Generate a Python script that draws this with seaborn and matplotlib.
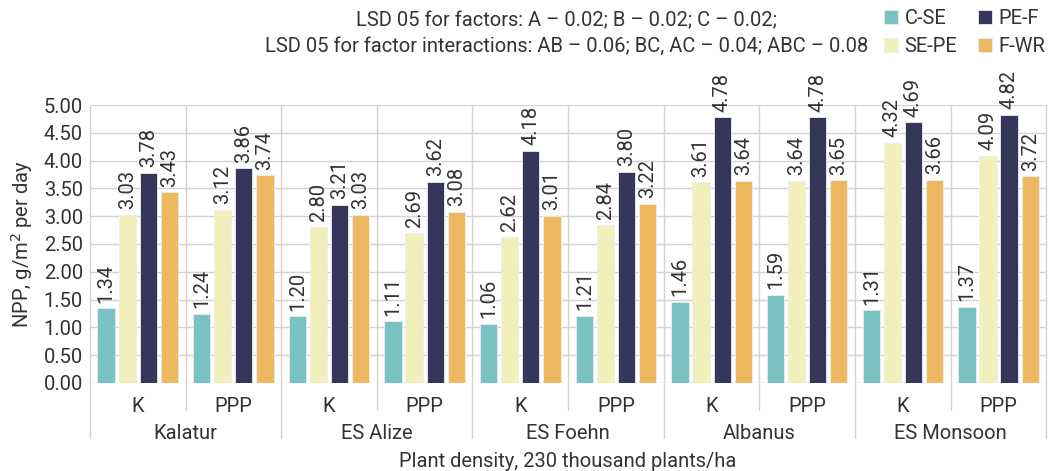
import pandas as pd
import numpy as np
import matplotlib.pyplot as plt
from matplotlib.transforms import blended_transform_factory
import seaborn as sns

# Data
varieties = ['Kalatur', 'ES Alize', 'ES Foehn', 'Albanus', 'ES Monsoon']
densities = ['K', 'PPP']
series = ['C-SE', 'SE-PE', 'PE-F', 'F-WR']
c_se = [1.34, 1.24, 1.20, 1.11, 1.06, 1.21, 1.46, 1.59, 1.31, 1.37]
se_pe = [3.03, 3.12, 2.80, 2.69, 2.62, 2.84, 3.61, 3.64, 4.32, 4.09]
pe_f = [3.78, 3.86, 3.21, 3.62, 4.18, 3.80, 4.78, 4.78, 4.69, 4.82]
f_wr = [3.43, 3.74, 3.03, 3.08, 3.01, 3.22, 3.64, 3.65, 3.66, 3.72]
colors = ['#78C2C1', '#F2F0BA', '#36365A', '#ECB860']

subgroups = [f'{v}|{d}' for v in varieties for d in densities]
rows = []
for name, vals in zip(series, [c_se, se_pe, pe_f, f_wr]):
    for sg, val in zip(subgroups, vals):
        rows.append({'sub': sg, 'series': name, 'value': val})
df = pd.DataFrame(rows)

sns.set_theme(style='white')
plt.rcParams['font.family'] = ['Roboto', 'DejaVu Sans']
text_color = '#333333'
grid_color = '#D3D3D3'
fs = 14.5

fig = plt.figure(figsize=(10.57, 4.71), dpi=100)
ax = fig.add_axes([0.085, 0.187, 0.905, 0.590])

sns.barplot(data=df, x='sub', y='value', hue='series', order=subgroups,
            hue_order=series, palette=colors, width=0.88, gap=0.18,
            edgecolor='#EDEDF2', linewidth=0.6, saturation=1, ax=ax, zorder=3)

for cont in ax.containers:
    ax.bar_label(cont, fmt='%.2f', rotation=90, padding=4,
                 fontsize=fs, color=text_color)

ax.set_ylim(0, 5)
ax.set_yticks(np.arange(0, 5.01, 0.5))
ax.set_yticklabels([f'{t:.2f}' for t in np.arange(0, 5.01, 0.5)],
                   fontsize=fs, color=text_color)
ax.set_xlim(-0.5, len(subgroups) - 0.5)
ax.set_xticks(range(len(subgroups)))
ax.set_xticklabels([s.split('|')[1] for s in subgroups], fontsize=fs,
                   color=text_color)
ax.tick_params(axis='both', length=0)
ax.tick_params(axis='y', pad=5)
ax.tick_params(axis='x', pad=10)
ax.yaxis.grid(True, color=grid_color, linewidth=1, zorder=0)
ax.set_axisbelow(True)
for s in ax.spines.values():
    s.set_visible(False)

# separators between subgroups and groups
for i in range(len(subgroups) + 1):
    x = i - 0.5
    ymin = -0.198 if i % 2 == 0 else -0.097
    ax.axvline(x, ymin=ymin, ymax=1, color=grid_color, linewidth=1,
               clip_on=False, zorder=1)

trans = blended_transform_factory(ax.transData, ax.transAxes)
for j, v in enumerate(varieties):
    ax.text(2 * j + 0.5, -0.215, v, transform=trans, ha='center',
            va='bottom', fontsize=fs, color=text_color)

ax.set_xlabel('Plant density, 230 thousand plants/ha', fontsize=fs,
              color=text_color, labelpad=26)
ax.set_ylabel('NPP, g/m$^2$ per day', fontsize=fs, color=text_color,
              labelpad=6)

fig.text(0.536, 0.957, 'LSD 05 for factors: A – 0.02; B – 0.02; C – 0.02;',
         ha='center', va='center', fontsize=fs, color=text_color)
fig.text(0.536, 0.902,
         'LSD 05 for factor interactions: AB – 0.06; BC, AC – 0.04; ABC – 0.08',
         ha='center', va='center', fontsize=fs, color=text_color)

handles, labels = ax.get_legend_handles_labels()
ax.legend(handles, labels, ncol=2, loc='upper right',
          bbox_to_anchor=(1.006, 1.02), bbox_transform=fig.transFigure,
          frameon=False, fontsize=fs, handlelength=0.7, handleheight=0.7,
          handletextpad=0.3, columnspacing=1.05, labelspacing=0.45,
          labelcolor=text_color)

fig.savefig('out.png', dpi=100)
